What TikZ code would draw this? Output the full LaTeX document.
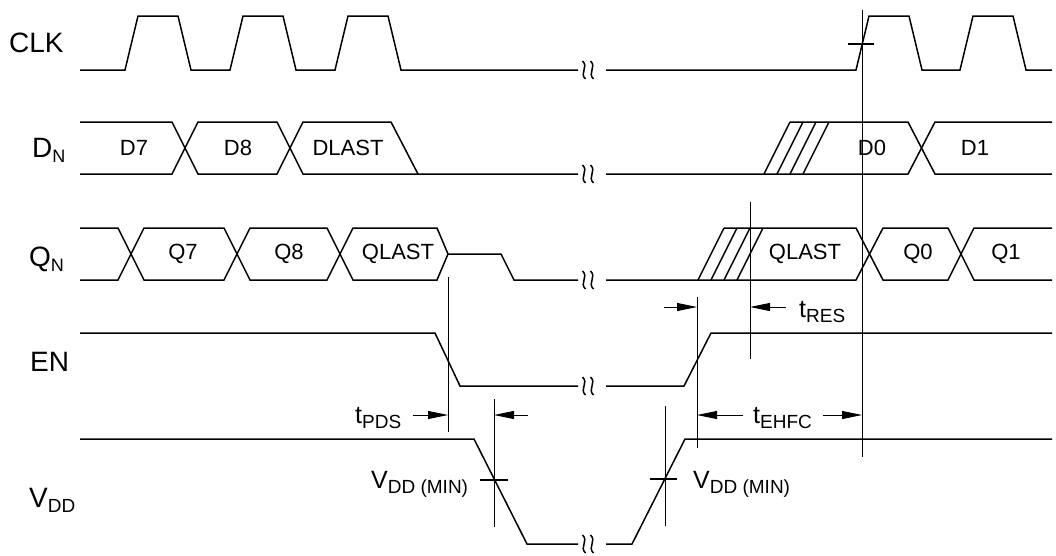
\documentclass[tikz,border=0pt]{standalone}
\usepackage{fontspec}
\setmainfont{Liberation Sans}
\usetikzlibrary{arrows.meta}

\tikzset{
  sig/.style={line width=1.5pt,line join=miter},
  ref/.style={line width=0.9pt},
  dim/.style={line width=0.9pt,-{Triangle[length=20pt,width=8pt]}},
  rowlbl/.style={font=\fontsize{28}{28}\selectfont,inner sep=0pt,anchor=base west},
  buslbl/.style={font=\fontsize{22}{22}\selectfont,inner sep=0pt},
  tlbl/.style={font=\fontsize{25}{25}\selectfont,inner sep=0pt,anchor=base west},
}
\newcommand{\lsub}[2][19]{\raisebox{-5pt}{\fontsize{#1}{#1}\selectfont #2}}

\begin{document}
\begin{tikzpicture}[x=1pt,y=-1pt]
  \useasboundingbox (0,0) rectangle (1056,555);

  % row names
  \node[rowlbl] (lclk) at (9,52) {CLK};
  \node[rowlbl] (ldn) at (32,157) {D\lsub[18]{N}};
  \node[rowlbl] (lqn) at (29,266) {Q\lsub[18]{N}};
  \node[rowlbl] (len) at (30,371) {EN};
  \node[rowlbl] (lvdd) at (29,507) {V\lsub[19]{DD}};

  % CLK
  \draw[sig] (80,70) foreach \x in {125,230,335} { -- (\x,70) -- (\x+13,16) -- (\x+53,16) -- (\x+66,70) } -- (578,70);
  \draw[sig] (606,70) foreach \x in {856,960} { -- (\x,70) -- (\x+13,16) -- (\x+53,16) -- (\x+66,70) } -- (1052,70);

  % D_N
  \draw[sig] (80,122) -- (172,122) -- (198,174) -- (277,174) -- (303,122) -- (391,122) -- (418,174);
  \draw[sig] (80,174) -- (172,174) -- (198,122) -- (277,122) -- (303,174) -- (578,174);
  \draw[sig] (606,174) -- (908,174) -- (935,122) -- (1052,122);
  \draw[sig] (790,122) -- (908,122) -- (935,174) -- (1052,174);
  \foreach \a in {764,777,790,803}
    \draw[sig] (\a,174) -- (\a+26,122);
  \node[buslbl] (d7) at (134,148) {D7};
  \node[buslbl] (d8) at (238,148) {D8};
  \node[buslbl] (dlast) at (348,148) {DLAST};
  \node[buslbl] (d0) at (872,148) {D0};
  \node[buslbl] (d1) at (975,148) {D1};

  % Q_N
  \draw[sig] (80,228) -- (118,228) -- (144,280) -- (224,280) -- (250,228) -- (327,228) -- (353,280) -- (437,280) -- (448,254) -- (501,254) -- (514,280) -- (578,280);
  \draw[sig] (80,280) -- (118,280) -- (144,228) -- (224,228) -- (250,280) -- (327,280) -- (353,228) -- (437,228) -- (448,254);
  \draw[sig] (606,280) -- (856,280) -- (883,228) -- (948,228) -- (974,280) -- (1052,280);
  \draw[sig] (724,228) -- (856,228) -- (883,280) -- (948,280) -- (974,228) -- (1052,228);
  \foreach \a in {698,711,724,737}
    \draw[sig] (\a,280) -- (\a+26,228);
  \node[buslbl] (q7) at (183,254) {Q7};
  \node[buslbl] (q8) at (289,254) {Q8};
  \node[buslbl] (qlastA) at (398,254) {QLAST};
  \node[buslbl] (qlastB) at (805,254) {QLAST};
  \node[buslbl] (q0) at (918,254) {Q0};
  \node[buslbl] (q1) at (1006,254) {Q1};

  % EN
  \draw[sig] (80,333) -- (435,333) -- (460,386) -- (578,386);
  \draw[sig] (606,386) -- (684,386) -- (711,333) -- (1052,333);

  % V_DD
  \draw[sig] (80,439) -- (474,439) -- (527,544) -- (578,544);
  \draw[sig] (606,544) -- (632,544) -- (685,439) -- (1052,439);

  % breaks
  \foreach \y in {70,174,280,386,544}
    \foreach \bx in {584,592}
      \draw[sig] (\bx-1.5,\y-9) .. controls (\bx+5,\y-3) and (\bx-5,\y+3) .. (\bx+1.5,\y+9);

  % reference lines and ticks
  \draw[ref] (862,10) -- (862,457);
  \draw[ref] (750,202) -- (750,359);
  \draw[ref] (697,297) -- (697,448);
  \draw[ref] (448,277) -- (448,432);
  \draw[ref] (494,399) -- (494,527);
  \draw[ref] (665,406) -- (665,526);
  \draw[sig] (848,44) -- (874,44);
  \draw[sig] (480,480) -- (508,480);
  \draw[sig] (650,479) -- (677,479);

  % timing arrows
  \coordinate (pds) at (448,415);
  \coordinate (vmin) at (494,415);
  \coordinate (resA) at (697,307);
  \coordinate (resB) at (750,307);
  \coordinate (ehA) at (697,415);
  \coordinate (ehB) at (862,415);
  \draw[dim] (413,415) -- (pds);
  \draw[dim] (528,415) -- (vmin);
  \draw[dim] (664,307) -- (resA);
  \draw[dim] (786,307) -- (resB);
  \draw[dim] (743,415) -- (ehA);
  \draw[dim] (823,415) -- (ehB);
  \node[tlbl] (tpds) at (355,423) {t\lsub{PDS}};
  \node[tlbl] (tres) at (799,317) {t\lsub{RES}};
  \node[tlbl] (tehfc) at (753,423) {t\lsub{EHFC}};
  \node[tlbl] (vminA) at (371,488) {V\lsub{DD (MIN)}};
  \node[tlbl] (vminB) at (693,488) {V\lsub{DD (MIN)}};
\end{tikzpicture}
\end{document}
